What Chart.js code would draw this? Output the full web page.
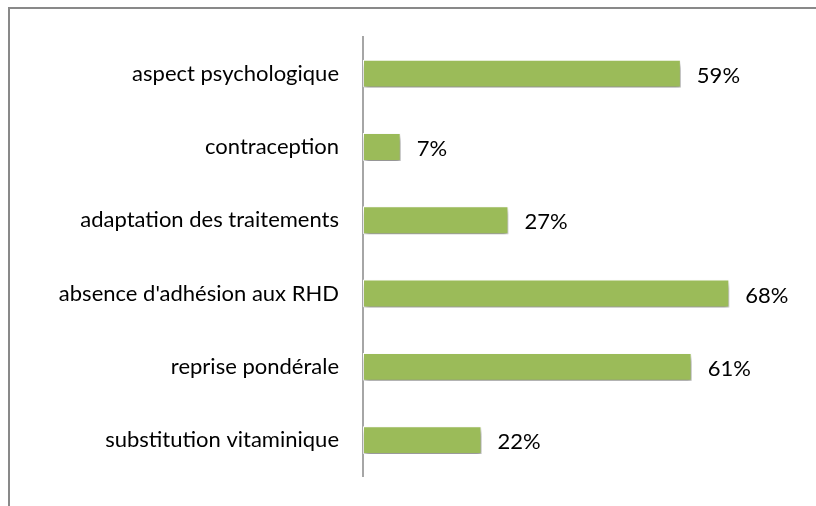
<!DOCTYPE html>
<html>
<head>
<meta charset="utf-8">
<script src="https://cdn.jsdelivr.net/npm/chart.js@4/dist/chart.umd.min.js"></script>
<style>
    html, body { margin: 0; padding: 0; background: #fff; }
    .frame {
        position: absolute;
        left: 8px;
        top: 7px;
        width: 820px;
        height: 510px;
        border-left: 2px solid #898989;
        border-top: 2px solid #898989;
    }
    .wrap { position: absolute; left: 0; top: 0; width: 816px; height: 506px; }
</style>
</head>
<body>
<div class="frame"></div>
<div class="wrap"><canvas id="chart" width="816" height="506"></canvas></div>
<script>
const categories = [
    'aspect psychologique',
    'contraception',
    'adaptation des traitements',
    "absence d'adhésion aux RHD",
    'reprise pondérale',
    'substitution vitaminique'
];
const values = [59, 7, 27, 68, 61, 22];
const valueLabels = ['59%', '7%', '27%', '68%', '61%', '22%'];

const FONT = 'Lato, "Open Sans", sans-serif';

// Soft shadow under the bars, like the spreadsheet style
const barShadow = {
    id: 'barShadow',
    beforeDatasetDraw(chart) {
        const ctx = chart.ctx;
        ctx.save();
        ctx.shadowColor = 'rgba(0, 0, 0, 0.45)';
        ctx.shadowBlur = 5;
        ctx.shadowOffsetX = 1;
        ctx.shadowOffsetY = 4;
    },
    afterDatasetDraw(chart) {
        chart.ctx.restore();
    }
};

// Percent labels at the end of each bar
const endLabels = {
    id: 'endLabels',
    afterDatasetsDraw(chart) {
        const ctx = chart.ctx;
        const meta = chart.getDatasetMeta(0);
        ctx.save();
        ctx.font = '22px ' + FONT;
        ctx.fillStyle = '#000';
        ctx.textAlign = 'left';
        ctx.textBaseline = 'middle';
        meta.data.forEach((bar, i) => {
            ctx.fillText(valueLabels[i], bar.x + 16, bar.y + 2);
        });
        ctx.restore();
    }
};

new Chart(document.getElementById('chart'), {
    type: 'bar',
    data: {
        labels: categories,
        datasets: [{
            data: values,
            backgroundColor: '#9bbb59',
            borderColor: '#ffffff',
            borderWidth: 1,
            borderSkipped: false,
            categoryPercentage: 1,
            barPercentage: 0.38
        }]
    },
    options: {
        indexAxis: 'y',
        responsive: false,
        animation: false,
        layout: {
            padding: { top: 37, bottom: 25, left: 0, right: 22 }
        },
        plugins: {
            legend: { display: false },
            tooltip: { enabled: false }
        },
        scales: {
            x: {
                display: false,
                min: 0,
                max: 80
            },
            y: {
                afterFit: function (scale) {
                    scale.width = 363;
                },
                grid: { display: false },
                border: { display: true, color: '#a6a6a6', width: 2 },
                ticks: {
                    color: '#000',
                    padding: 16,
                    font: { family: FONT, size: 22 }
                }
            }
        }
    },
    plugins: [barShadow, endLabels]
});
</script>
</body>
</html>
